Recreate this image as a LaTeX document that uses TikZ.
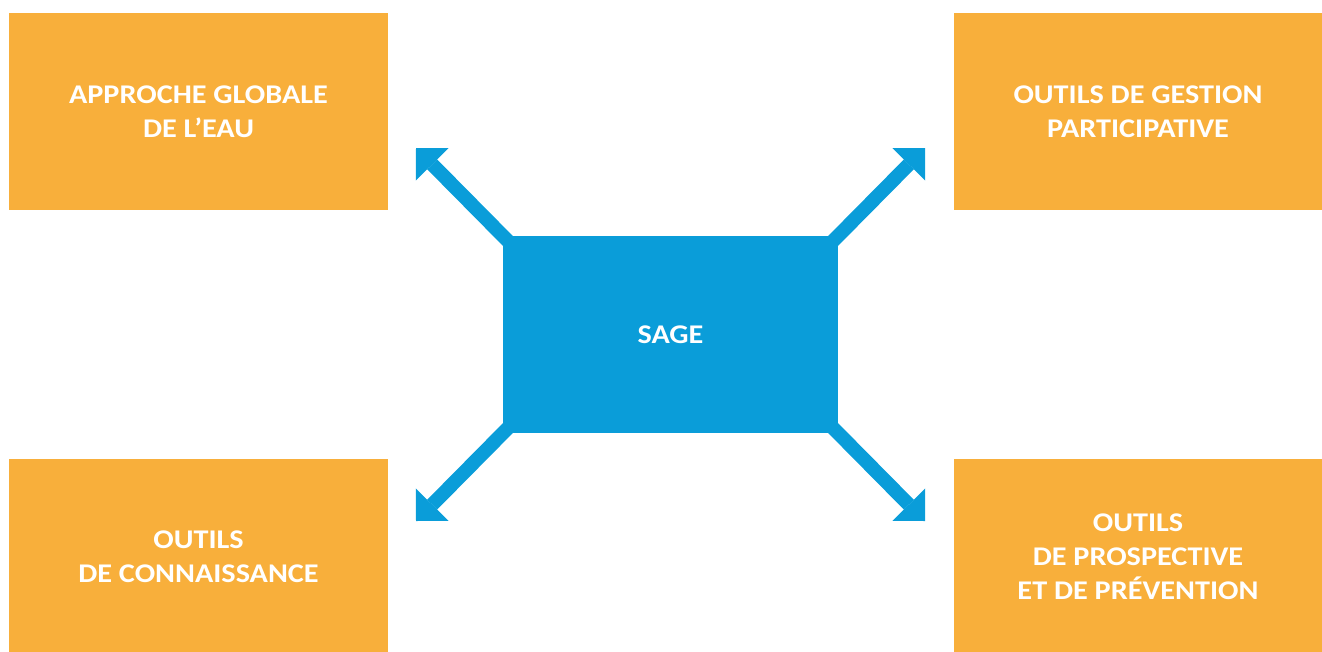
\documentclass[tikz,border=0pt]{standalone}
\usepackage{fontspec}
\setmainfont{Carlito}[FakeStretch=1.12]
\usetikzlibrary{arrows.meta,calc,backgrounds}
\definecolor{boxorange}{HTML}{F8AF3B}
\definecolor{sageblue}{HTML}{0A9DD9}
\begin{document}
\begin{tikzpicture}[x=1pt,y=-1pt,
  txt/.style={text=white,font=\fontsize{27}{34}\selectfont\bfseries,align=center,inner sep=0pt},
  obox/.style={txt,fill=boxorange,rectangle,minimum width=379pt},
  sbox/.style={txt,fill=sageblue,rectangle,minimum width=335pt,minimum height=197pt},
  link/.style={draw=sageblue,line width=14pt,-{Triangle[length=23pt,width=46pt,line width=0pt]}}
]
\useasboundingbox (0,0) rectangle (1322,651);
\node[obox,minimum height=197pt] (a) at (198.5,111.5) {APPROCHE GLOBALE\\DE L’EAU};
\node[obox,minimum width=368pt,minimum height=197pt] (b) at (1138,111.5) {OUTILS DE GESTION\\PARTICIPATIVE};
\node[obox,minimum height=196pt] (c) at (198.5,557) {OUTILS\\DE CONNAISSANCE};
\node[obox,minimum width=368pt,minimum height=196pt] (d) at (1138,557) {OUTILS\\DE PROSPECTIVE\\ET DE PRÉVENTION};
\node[sbox] (s) at (670.5,334.5) {SAGE};
\coordinate (ta) at (416,148);
\coordinate (tb) at (925,148);
\coordinate (tc) at (416,521);
\coordinate (td) at (925,521);
\begin{scope}[on background layer]
\draw[link] ($(s.north west)!-20pt!(ta)$) -- (ta);
\draw[link] ($(s.north east)!-20pt!(tb)$) -- (tb);
\draw[link] ($(s.south west)!-20pt!(tc)$) -- (tc);
\draw[link] ($(s.south east)!-20pt!(td)$) -- (td);
\end{scope}
\end{tikzpicture}
\end{document}
